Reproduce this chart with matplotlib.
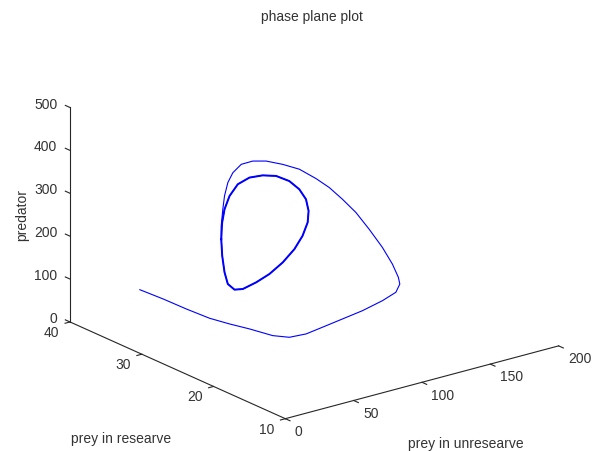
import numpy as np
import matplotlib
matplotlib.use('Agg')
import matplotlib.pyplot as plt
from mpl_toolkits.mplot3d import proj3d

plt.rcParams['font.family'] = ['Liberation Sans', 'DejaVu Sans']

# trajectory (transient part)
prey_free = [30.1, 36.6, 43.1, 49.6, 53.7, 60.4, 66.9, 71.2, 79.8, 90.3, 105.9, 122.1,
             139.3, 151.8, 157.3, 157.3, 154.0, 147.2, 137.5, 127.3, 116.4, 105.7, 95.0,
             81.2, 67.4, 53.7, 42.8, 33.4, 26.2, 21.5, 18.0, 15.7, 14.0]
prey_res = [36, 34, 32, 30, 28, 26.5, 24.5, 23, 22.3, 22, 22.2, 22.5, 23, 23.5, 24, 24.2,
            24.4, 24.5, 24.5, 24.4, 24.2, 24, 23.8, 23.5, 23.2, 22.9, 22.7, 22.5, 22.3,
            22.1, 21.9, 21.7, 21.6]
pred = [79.7, 67.7, 53.8, 41.7, 40.0, 34.0, 27.9, 31.6, 37.4, 46.5, 50.9, 54.2, 59.1,
        64.4, 75.1, 89.3, 121.4, 165.3, 216.0, 264.4, 306.0, 343.9, 375.3, 411.2, 436.5,
        458.1, 468.8, 470.7, 458.8, 441.4, 414.7, 387.0, 350.2]

# limit cycle (traced several times in the original)
cyc_free = [13.5, 14.2, 15.9, 18.3, 23.2, 29.8, 40.7, 51.4, 62.7, 72.3, 79.3, 84.1,
            85.3, 83.4, 78.5, 71.2, 61.0, 50.1, 39.4, 29.3, 22.2, 17.5, 14.7]
cyc_res = [21.5, 21.5, 21.5, 21.5, 21.5, 21.6, 21.8, 22, 22.3, 22.5, 22.7, 22.9, 23, 23,
           23, 23, 22.9, 22.7, 22.5, 22.2, 22, 21.8, 21.6]
cyc_pred = [320.7, 281.4, 241.4, 212.1, 194.7, 189.8, 194.7, 203.5, 218.6, 240.0, 263.5,
            289.3, 314.2, 343.0, 370.5, 395.8, 417.2, 429.3, 434.7, 430.0, 410.2, 384.9,
            357.7]

xticks = [0, 50, 100, 150, 200]
yticks = [10, 20, 30, 40]
zticks = [0, 100, 200, 300, 400, 500]

W, H = 601, 452
fig = plt.figure(figsize=(W / 100, H / 100), dpi=100)
side = 440
ax = fig.add_axes([(W - side) / 2 / W, (H - side) / 2 / H, side / W, side / H],
                  projection='3d', proj_type='ortho')
aspect = (345.9, 353.9, 229.2)
ax.set_box_aspect(aspect)
ax.view_init(elev=20.24, azim=-127.6)
ax.set_xlim(0, 200)
ax.set_ylim(10, 40)
ax.set_zlim(0, 500)
ax.set_axis_off()

blue = (0, 0, 1)
ax.plot(prey_free + cyc_free, prey_res + cyc_res, pred + cyc_pred, color=blue, lw=0.8,
        clip_on=False)
ax.plot(cyc_free + cyc_free[:1], cyc_res + cyc_res[:1], cyc_pred + cyc_pred[:1],
        color=blue, lw=1.4, clip_on=False)

# matlab style axis lines
ac = '0.15'
fs = 10
ax.plot([0, 200], [10, 10], [0, 0], color=ac, lw=0.8, clip_on=False)
ax.plot([0, 0], [10, 40], [0, 0], color=ac, lw=0.8, clip_on=False)
ax.plot([0, 0], [40, 40], [0, 500], color=ac, lw=0.8, clip_on=False)
for t in xticks:
    ax.plot([t, t], [10, 9.35], [0, 0], color=ac, lw=0.8, clip_on=False)
    ax.text(t, 8.7, -19, str(t), ha='left', va='center', fontsize=fs, color='0.2')
for t in yticks:
    ax.plot([0, -3.6], [t, t], [0, 0], color=ac, lw=0.8, clip_on=False)
    ax.text(-8, t, -16.5, str(t), ha='right', va='center', fontsize=fs, color='0.2')
for t in zticks:
    ax.plot([0, 0], [40, 40.65], [t, t], color=ac, lw=0.8, clip_on=False)
    ax.text(-4, 41, t + 5, str(t), ha='right', va='center', fontsize=fs, color='0.2')

fig.text(466 / W, 1 - 444 / H, 'prey in unresearve', ha='center', va='center', fontsize=fs, color='0.2')
fig.text(121 / W, 1 - 439 / H, 'prey in researve', ha='center', va='center', fontsize=fs, color='0.2')
fig.text(22 / W, 1 - 215 / H, 'predator', ha='center', va='center', rotation=90, fontsize=fs, color='0.2')
fig.text(312 / W, 1 - 17 / H, 'phase plane plot', ha='center', va='center', fontsize=fs, color='0.2')

# where the cube corners sit in the picture
cx = np.array([0, 200, 0, 0])
cy = np.array([10, 10, 40, 40])
cz = np.array([0, 0, 0, 500])
q = np.array([[285, H - 420], [559, H - 346], [70, H - 323], [70, H - 109]], float)


def corners():
    fig.canvas.draw()
    xs, ys, _ = proj3d.proj_transform(cx, cy, cz, ax.get_proj())
    return ax.transData.transform(np.column_stack([xs, ys]))


# pass 1: scale with the box zoom, pass 2: shift the axes
p = corners()
pm, qm = p.mean(0), q.mean(0)
k = ((p - pm) * (q - qm)).sum() / ((p - pm) ** 2).sum()
ax.set_box_aspect(aspect, zoom=k)
p = corners()
shift = q.mean(0) - p.mean(0)
bb = ax.get_position()
ax.set_position([bb.x0 + shift[0] / W, bb.y0 + shift[1] / H, bb.width, bb.height])

plt.savefig('out.png', dpi=100)
